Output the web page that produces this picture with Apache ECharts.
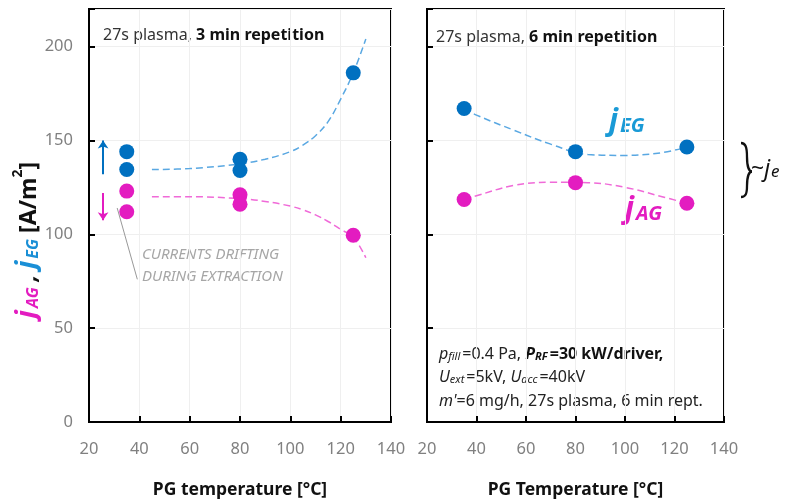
<!DOCTYPE html>
<html>
<head>
<meta charset="utf-8">
<script src="https://cdn.jsdelivr.net/npm/echarts@6/dist/echarts.min.js"></script>
<style>
  html, body { margin: 0; padding: 0; background: #fff; }
  #main { width: 790px; height: 499px; }
</style>
</head>
<body>
<div id="main"></div>
<script>
// measured points, 3 min repetition (left panel)
var tempLeft = [35, 35, 80, 80, 125];
var egLeft = [144, 134.5, 140, 134, 186];
var agLeft = [123, 112, 121, 116, 99.5];
// dashed trend lines
var fitXLeft = [45, 60, 80, 90, 100, 105, 110, 115, 120, 125, 130];
var fitEgLeft = [134.5, 135, 137.5, 140, 144, 147.5, 152.5, 160, 172, 186, 204];
var fitAgLeft = [120, 120, 119, 117.5, 115, 113, 110.3, 106.8, 102.6, 98.5, 87.5];

// 6 min repetition (right panel)
var tempRight = [35, 80, 125];
var egRight = [167, 144, 146.5];
var agRight = [118.5, 127.5, 116.5];
var fitXRight = [35, 40, 55, 70, 85, 100, 115, 125];
var fitEgRight = [167, 163.5, 155.5, 148, 142.5, 142, 143.5, 146.5];
var fitAgRight = [118.5, 120.5, 126, 127.7, 127.5, 125, 120, 116.5];

// annotation arrows (data coords)
var arrowUp = [[25.6, 132], [25.6, 150]];
var arrowDown = [[25.6, 122], [25.6, 107.5]];
var leaderLine = [[31.2, 114], [39.2, 76]];

var BLUE = '#0070c0', BLUE_FIT = '#5aa8e2';
var MAG = '#e31cc0', MAG_FIT = '#f06ad8';
var FONT = 'Noto Sans';

function zip(xs, ys) {
  var out = [];
  for (var i = 0; i < xs.length; i++) out.push([xs[i], ys[i]]);
  return out;
}

var chart = echarts.init(document.getElementById('main'));

function xAxisCfg(idx, name) {
  return {
    gridIndex: idx, type: 'value', min: 20, max: 140, interval: 20,
    name: name, nameLocation: 'middle', nameGap: 59,
    nameTextStyle: { fontFamily: FONT, fontSize: 17.5, fontWeight: 'bold', color: '#111' },
    axisLine: { lineStyle: { color: '#000', width: 2 } },
    axisTick: { inside: true, length: 6, lineStyle: { color: '#000', width: 2 } },
    axisLabel: { fontFamily: FONT, fontSize: 16.5, color: '#808080', margin: 19 },
    splitLine: { show: true, lineStyle: { color: '#efefef', width: 1 } }
  };
}

function yAxisCfg(idx, showLabel) {
  return {
    gridIndex: idx, type: 'value', min: 0, max: 220, interval: 50,
    axisLine: { show: true, lineStyle: { color: '#000', width: 2 } },
    axisTick: { show: true, inside: true, length: 6, lineStyle: { color: '#000', width: 2 } },
    axisLabel: {
      show: showLabel, fontFamily: FONT, fontSize: 16.5, color: '#808080', margin: 16,
      formatter: function (v) { return v % 50 === 0 ? v : ''; }
    },
    splitLine: { show: true, lineStyle: { color: '#efefef', width: 1 } }
  };
}

function dots(xi, data, color) {
  return {
    type: 'scatter', xAxisIndex: xi, yAxisIndex: xi, data: data,
    symbolSize: 15, itemStyle: { color: color, opacity: 1 }, z: 5
  };
}

function fit(xi, data, color) {
  return {
    type: 'line', xAxisIndex: xi, yAxisIndex: xi, data: data, smooth: 0.4,
    showSymbol: false, lineStyle: { color: color, width: 1.5, type: [7, 4] }, z: 3
  };
}

function textLine(left, top, text) {
  var base = { fontFamily: FONT, fontSize: 16, fill: '#222', lineHeight: 22, verticalAlign: 'bottom' };
  function st(extra) { return Object.assign({}, base, extra); }
  return {
    type: 'text', left: left, top: top,
    style: {
      text: text, fill: '#222',
      rich: {
        n: st({}),
        i: st({ fontStyle: 'italic' }),
        is: st({ fontSize: 11, fontStyle: 'italic', padding: [0, 2, 0, 0] }),
        b: st({ fontWeight: 'bold', fill: '#111' }),
        bi: st({ fontWeight: 'bold', fontStyle: 'italic', fill: '#111' }),
        bs: st({ fontSize: 11, fontWeight: 'bold', fontStyle: 'italic', fill: '#111', padding: [0, 2, 0, 0] })
      }
    }
  };
}

function jLabel(left, top, sub, color) {
  var base = { fontFamily: FONT, fontStyle: 'italic', fontWeight: 'bold', fill: color, lineHeight: 34, verticalAlign: 'bottom' };
  return {
    type: 'text', left: left, top: top,
    style: {
      text: '{j|j}{s|' + sub + '}',
      rich: {
        j: Object.assign({}, base, { fontSize: 30 }),
        s: Object.assign({}, base, { fontSize: 20, padding: [0, 0, 0, 2] })
      }
    }
  };
}

// one quarter of the curly brace
function braceCurve(x1, y1, cx1, cy1, cx2, cy2, x2, y2) {
  return {
    type: 'bezierCurve',
    shape: { x1: x1, y1: y1, cpx1: cx1, cpy1: cy1, cpx2: cx2, cpy2: cy2, x2: x2, y2: y2 },
    style: { fill: null, stroke: '#111', lineWidth: 2.3 }
  };
}

var yTitleBase = { fontFamily: FONT, fontWeight: 'bold', lineHeight: 30, verticalAlign: 'bottom' };
function yt(extra) { return Object.assign({}, yTitleBase, extra); }

var option = {
  backgroundColor: '#fff',
  animation: false,
  grid: [
    { left: 89, right: 399, top: 9, bottom: 77, show: true, borderColor: '#000', borderWidth: 2, outerBoundsMode: 'none' },
    { left: 427, right: 66, top: 9, bottom: 77, show: true, borderColor: '#000', borderWidth: 2, outerBoundsMode: 'none' }
  ],
  xAxis: [xAxisCfg(0, 'PG temperature [°C]'), xAxisCfg(1, 'PG Temperature [°C]')],
  yAxis: [yAxisCfg(0, true), yAxisCfg(1, false)],
  series: [
    fit(0, zip(fitXLeft, fitEgLeft), BLUE_FIT),
    fit(0, zip(fitXLeft, fitAgLeft), MAG_FIT),
    dots(0, zip(tempLeft, egLeft), BLUE),
    dots(0, zip(tempLeft, agLeft), MAG),
    fit(1, zip(fitXRight, fitEgRight), BLUE_FIT),
    fit(1, zip(fitXRight, fitAgRight), MAG_FIT),
    dots(1, zip(tempRight, egRight), BLUE),
    dots(1, zip(tempRight, agRight), MAG),
    // arrows and leader line of the annotation
    {
      type: 'line', xAxisIndex: 0, yAxisIndex: 0, data: [], silent: true,
      markLine: {
        silent: true, animation: false, label: { show: false },
        data: [
          [{ coord: arrowUp[0], symbol: 'none', lineStyle: { color: BLUE, width: 2, type: 'solid' } },
           { coord: arrowUp[1], symbol: 'arrow', symbolSize: 8 }],
          [{ coord: arrowDown[0], symbol: 'none', lineStyle: { color: MAG, width: 2, type: 'solid' } },
           { coord: arrowDown[1], symbol: 'arrow', symbolSize: 8 }],
          [{ coord: leaderLine[0], symbol: 'none', lineStyle: { color: '#999', width: 1, type: 'solid' } },
           { coord: leaderLine[1], symbol: 'none' }]
        ]
      }
    }
  ],
  graphic: [
    // y axis title, reads bottom to top
    {
      type: 'text', x: 26, y: 240, rotation: Math.PI / 2,
      style: {
        text: '{j1|j}{s1|AG}{c| , }{j2|j}{s2|EG}{u| [A/m}{sup|2}{u|]}',
        align: 'center', verticalAlign: 'middle',
        rich: {
          j1: yt({ fontSize: 27, fontStyle: 'italic', fill: MAG }),
          s1: yt({ fontSize: 16, fontStyle: 'italic', fill: MAG, padding: [0, 0, 0, 2] }),
          c: yt({ fontSize: 23, fontStyle: 'italic', fill: '#111' }),
          j2: yt({ fontSize: 27, fontStyle: 'italic', fill: '#1a8fd6' }),
          s2: yt({ fontSize: 16, fontStyle: 'italic', fill: '#1a8fd6', padding: [0, 0, 0, 2] }),
          u: yt({ fontSize: 23, fill: '#111' }),
          sup: yt({ fontSize: 14, fill: '#111', verticalAlign: 'top' })
        }
      }
    },
    {
      type: 'text', left: 103, top: 27,
      style: {
        text: '{n|27s plasma, }{b|3 min repetition}',
        rich: {
          n: { fontFamily: FONT, fontSize: 16, fill: '#333' },
          b: { fontFamily: FONT, fontSize: 16, fontWeight: 'bold', fill: '#111' }
        }
      }
    },
    {
      type: 'text', left: 436, top: 29,
      style: {
        text: '{n|27s plasma, }{b|6 min repetition}',
        rich: {
          n: { fontFamily: FONT, fontSize: 16, fill: '#333' },
          b: { fontFamily: FONT, fontSize: 16, fontWeight: 'bold', fill: '#111' }
        }
      }
    },
    {
      type: 'text', left: 142, top: 244,
      style: {
        text: 'CURRENTS DRIFTING\nDURING EXTRACTION', lineHeight: 22,
        fontFamily: FONT, fontSize: 15, fontStyle: 'italic', fill: '#a6a6a6'
      }
    },
    jLabel(609, 106, 'EG', '#1a9ad6'),
    jLabel(625, 194, 'AG', MAG),
    // brace and ~j_e
    braceCurve(741, 143, 745.5, 143, 747, 147, 747, 157),
    braceCurve(747, 157, 747, 166, 749, 171.5, 752, 171.5),
    braceCurve(752, 171.5, 749, 171.5, 747, 177, 747, 186),
    braceCurve(747, 186, 747, 194, 745.5, 197, 741, 197),
    {
      type: 'text', left: 751, top: 158,
      style: {
        text: '{t|~}{j|j}{s|e}',
        rich: {
          t: { fontFamily: FONT, fontSize: 23, fill: '#111', lineHeight: 30, verticalAlign: 'bottom' },
          j: { fontFamily: FONT, fontSize: 23, fontStyle: 'italic', fill: '#111', lineHeight: 30, verticalAlign: 'bottom' },
          s: { fontFamily: FONT, fontSize: 17, fontStyle: 'italic', fill: '#111', lineHeight: 30, verticalAlign: 'bottom', padding: [0, 0, 0, 1] }
        }
      }
    },
    textLine(439, 346, '{i|p}{is|fill}{n|=0.4 Pa, }{bi|P}{bs|RF}{b|=30 kW/driver,}'),
    textLine(439, 369, '{i|U}{is|ext}{n|=5kV, }{i|U}{is|acc}{n|=40kV}'),
    textLine(439, 393, "{i|m'}{n|=6 mg/h, 27s plasma, 6 min rept.}")
  ]
};

chart.setOption(option);
</script>
</body>
</html>
